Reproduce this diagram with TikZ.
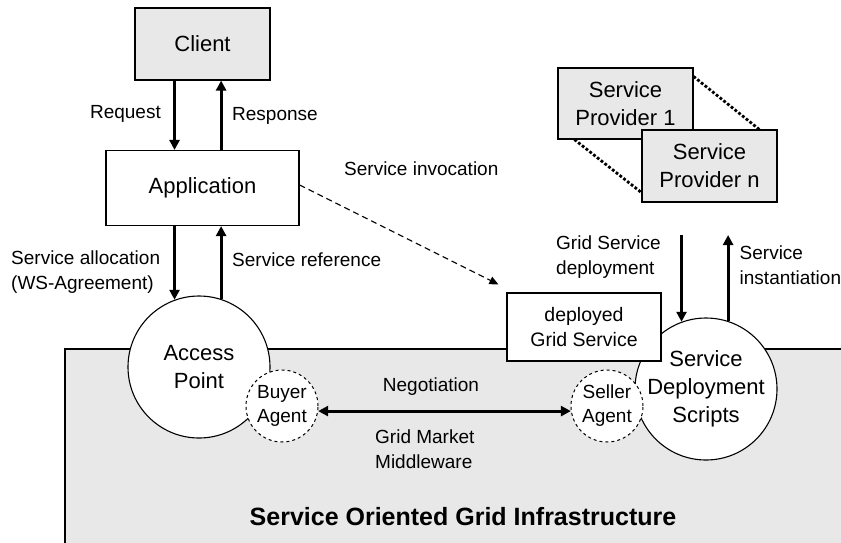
\documentclass[tikz,border=0pt]{standalone}
\usepackage{fontspec}
\setmainfont{Liberation Sans}
\usetikzlibrary{arrows.meta}
\definecolor{lgray}{HTML}{E8E8E8}
\begin{document}
\begin{tikzpicture}[x=1pt,y=-1pt,
  bigtxt/.style={font=\fontsize{22}{28}\selectfont},
  labtxt/.style={font=\fontsize{19}{24.5}\selectfont, inner sep=0pt},
  rbox/.style={draw, line width=1.1pt, inner sep=0pt, align=center},
  circ/.style={draw, circle, line width=1.1pt, fill=white, inner sep=0pt, align=center},
  agent/.style={draw, circle, dashed, line width=1pt, fill=white, inner sep=0pt, align=center, minimum size=72pt, font=\fontsize{19}{24}\selectfont},
  arr/.style={line width=3.1pt, -{Triangle[length=10pt,width=10pt]}},
  arrtwo/.style={line width=3.1pt, {Triangle[length=10pt,width=10pt]}-{Triangle[length=10pt,width=10pt]}},
  dotl/.style={line width=2.8pt, dash pattern=on 2.8pt off 2pt}
]
\useasboundingbox (0,0) rectangle (841,542);
% infrastructure
\fill[lgray] (65,349) rectangle (860,560);
\draw[line width=1.1pt] (65,560) -- (65,349) -- (860,349);
% nodes
\node[rbox, fill=lgray, minimum width=135pt, minimum height=72pt, bigtxt] (client) at (202.5,44) {Client};
\node[rbox, fill=white, minimum width=193pt, minimum height=75pt, bigtxt] (app) at (202.5,188) {Application};
\node[circ, minimum size=142pt, bigtxt] (ap) at (199,367) {Access\\Point};
\node[agent] (buyer) at (282,406) {Buyer\\Agent};
\node[circ, minimum size=142pt, bigtxt] (sds) at (706,389) {Service\\Deployment\\Scripts};
\node[agent] (seller) at (607,406) {Seller\\Agent};
\node[rbox, fill=white, minimum width=154pt, minimum height=68pt, font=\fontsize{19.5}{25}\selectfont] (dgs) at (584,327) {deployed\\Grid Service};
\node[rbox, fill=lgray, minimum width=135pt, minimum height=71pt, bigtxt] (sp1) at (625.5,103.5) {Service\\Provider 1};
\draw[dotl] ([yshift=-9pt]sp1.north east) -- (760,130);
\draw[dotl] ([xshift=17pt]sp1.south west) -- (642,193);
\node[rbox, fill=lgray, minimum width=135pt, minimum height=72pt, bigtxt] (spn) at (709.5,166) {Service\\Provider n};
% coordinates
\coordinate (gtop) at (700,235);
% arrows
\draw[arr] (client.south -| ap.110) -- (app.north -| ap.110);
\draw[arr] (app.north -| ap.72) -- (client.south -| ap.72);
\draw[arr] (app.south -| ap.110) -- (ap.110);
\draw[arr] (ap.72) -- (app.south -| ap.72);
\draw[arr] (gtop -| sds.110) -- (sds.110);
\draw[arr] (sds.72) -- (gtop -| sds.72);
\draw[arrtwo] (buyer.-8) -- (seller.188);
\draw[line width=1.1pt, dash pattern=on 6pt off 4pt, -{Triangle[length=9pt,width=8pt]}] ([yshift=3pt]app.east) -- ([xshift=-8pt,yshift=8pt]dgs.north west);
% labels
\node[labtxt, anchor=east] (lreq) at (161,114) {Request};
\node[labtxt, anchor=west] (lresp) at (232,116) {Response};
\node[labtxt, anchor=west, align=left] (lalloc) at (11,272) {Service allocation\\(WS-Agreement)};
\node[labtxt, anchor=west] (lref) at (232,260) {Service reference};
\node[labtxt, anchor=west] (linv) at (344,169) {Service invocation};
\node[labtxt, anchor=west, align=left] (ldep) at (556,257) {Grid Service\\deployment};
\node[labtxt, anchor=west, align=left] (linst) at (739.5,265) {Service\\instantiation};
\node[labtxt] (lneg) at (431,387) {Negotiation};
\node[labtxt, anchor=west, align=left] (lgmm) at (375,449) {Grid Market\\Middleware};
\node[font=\fontsize{25}{30}\selectfont\bfseries, inner sep=0pt] (ltitle) at (463,517) {Service Oriented Grid Infrastructure};
\end{tikzpicture}
\end{document}
